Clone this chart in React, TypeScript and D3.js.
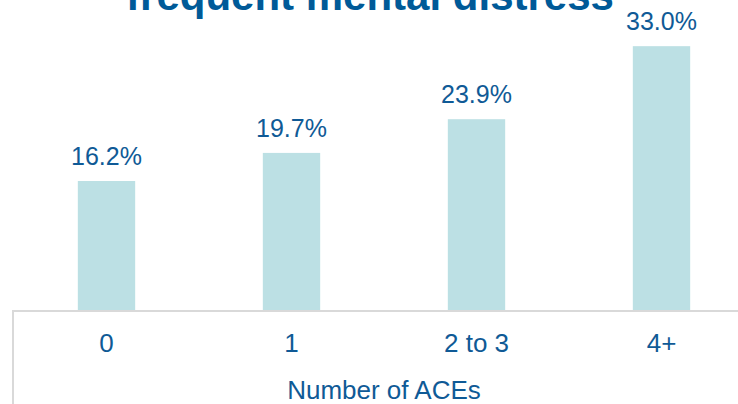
import React from 'react';
import * as d3 from 'd3';

const categories = ['0', '1', '2 to 3', '4+'];
const values = [16.2, 19.7, 23.9, 33.0];
const title = 'frequent mental distress';
const axisTitle = 'Number of ACEs';

const W = 738, H = 404;
const base = 311;

export default function App() {
  const x = d3.scaleBand<string>()
    .domain(categories)
    .range([14, 754])
    .paddingInner(0.69)
    .paddingOuter(0.345);

  const y = d3.scaleLinear()
    .domain([0, 35])
    .range([base, base - 8.025 * 35]);

  const font = '"Liberation Sans", Arial, sans-serif';
  const txt = '#0f5a96';

  return (
    <svg width={W} height={H} style={{position: 'absolute', left: 0, top: 0, background: '#fff'}}
         fontFamily={font}>
      {/* title is clipped by the top edge, as in the source */}
      <text x={370} y={10} textAnchor="middle" fontSize={42} fontWeight="bold" fill="#005a98">
        {title}
      </text>
      {categories.map((c, i) =>
        <g key={c}>
          <rect x={x(c)} y={y(values[i])} width={x.bandwidth()} height={base - y(values[i])}
                fill="#bce0e4" />
          <text x={x(c)! + x.bandwidth() / 2} y={y(values[i]) - 16} textAnchor="middle"
                fontSize={25} fill={txt}>
            {values[i].toFixed(1)}%
          </text>
          <text x={x(c)! + x.bandwidth() / 2} y={352} textAnchor="middle"
                fontSize={26} fill={txt}>
            {c}
          </text>
        </g>
      )}
      <path d={`M13,${H}V${base}H${W}`} fill="none" stroke="#d9d9d9" strokeWidth={2} />
      <text x={384} y={399} textAnchor="middle" fontSize={26} fill={txt}>{axisTitle}</text>
    </svg>
  );
}
